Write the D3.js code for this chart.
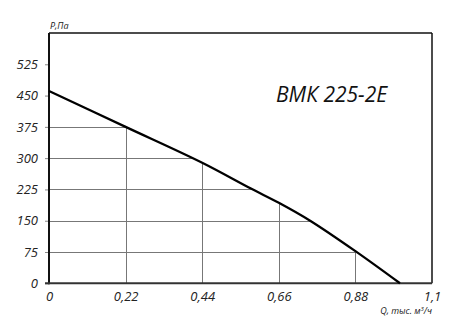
<!DOCTYPE html>
<html>
<head>
<meta charset="utf-8">
<script src="https://cdn.jsdelivr.net/npm/d3@7"></script>
<style>
  body { margin: 0; background: #fff; }
  svg { display: block; font-family: "Open Sans", sans-serif; }
</style>
</head>
<body>
<svg id="board" width="471" height="333"></svg>
<script>
// characteristic of the fan
var flow = [0, 0.22, 0.44, 0.58, 0.66, 0.75, 0.88, 1.008];
var pressure = [461, 375, 289, 227, 193, 150, 77, 0];
var xTicks = [0, 0.22, 0.44, 0.66, 0.88, 1.1];
var yTicks = [0, 75, 150, 225, 300, 375, 450, 525];
var title = "ВМК 225-2Е";

var board = d3.select("#board");
var pLeft = 49, pRight = 432, pTop = 33, pBottom = 283.3;

var x = d3.scaleLinear().domain([0, 1.1]).range([pLeft, pRight]);
var y = d3.scaleLinear().domain([0, 600]).range([pBottom, pTop]);

var pts = flow.map(function(q, i) { return [q, pressure[i]]; });

var line = d3.line()
      .x(function(d) { return x(d[0]); })
      .y(function(d) { return y(d[1]); })
      .curve(d3.curveCatmullRom);

var area = d3.area()
      .x(function(d) { return x(d[0]); })
      .y0(pBottom)
      .y1(function(d) { return y(d[1]); })
      .curve(d3.curveCatmullRom);

// grid only below the curve
board.append("clipPath").attr("id", "under")
      .append("path").attr("d", area(pts));

var grid = board.append("g").attr("clip-path", "url(#under)");
grid.selectAll("line.v")
      .data(xTicks.slice(1, 5))
      .enter().append("line")
      .attr("x1", function(d) { return Math.round(x(d)) + 0.5; })
      .attr("x2", function(d) { return Math.round(x(d)) + 0.5; })
      .attr("y1", pTop).attr("y2", pBottom)
      .attr("stroke", "#777").attr("stroke-width", 1);
grid.selectAll("line.h")
      .data(yTicks.slice(1, 6))
      .enter().append("line")
      .attr("y1", function(d) { return Math.round(y(d)) + 0.5; })
      .attr("y2", function(d) { return Math.round(y(d)) + 0.5; })
      .attr("x1", pLeft).attr("x2", pRight)
      .attr("stroke", "#777").attr("stroke-width", 1);

// y axis ticks + labels
var yAxis = board.append("g")
      .attr("transform", "translate(" + pLeft + ",0)")
      .call(d3.axisLeft(y).tickValues(yTicks).tickSize(4).tickPadding(7));
yAxis.select(".domain").remove();
yAxis.selectAll(".tick line").attr("stroke", "#888");
yAxis.selectAll(".tick text")
      .attr("font-size", 13).attr("font-style", "italic")
      .attr("font-family", "Open Sans").attr("fill", "#222");

// x axis labels
var xAxis = board.append("g")
      .attr("transform", "translate(0," + pBottom + ")")
      .call(d3.axisBottom(x).tickValues(xTicks).tickSize(0).tickPadding(8)
            .tickFormat(function(d) { return String(d).replace(".", ","); }));
xAxis.select(".domain").remove();
xAxis.selectAll(".tick text")
      .attr("font-size", 13).attr("font-style", "italic")
      .attr("font-family", "Open Sans").attr("fill", "#222");

// frame
board.append("line").attr("x1", pLeft).attr("x2", pRight).attr("y1", pTop).attr("y2", pTop)
      .attr("stroke", "#111").attr("stroke-width", 1.5);
board.append("line").attr("x1", pRight).attr("x2", pRight).attr("y1", pTop).attr("y2", pBottom)
      .attr("stroke", "#111").attr("stroke-width", 1.5);
board.append("line").attr("x1", pLeft).attr("x2", pLeft).attr("y1", pTop).attr("y2", pBottom + 1)
      .attr("stroke", "#111").attr("stroke-width", 2);
board.append("line").attr("x1", pLeft - 4).attr("x2", pRight).attr("y1", pBottom).attr("y2", pBottom)
      .attr("stroke", "#333").attr("stroke-width", 2);

// curve
board.append("path").attr("d", line(pts))
      .attr("fill", "none").attr("stroke", "#000").attr("stroke-width", 2.3);

// texts
board.append("text").attr("x", 50).attr("y", 29)
      .attr("font-size", 9).attr("font-style", "italic").attr("fill", "#222")
      .text("Р,Па");
var qLabel = board.append("text").attr("x", 432).attr("y", 314)
      .attr("text-anchor", "end")
      .attr("font-size", 9).attr("font-style", "italic").attr("fill", "#222");
qLabel.append("tspan").text("Q, тыс. м");
qLabel.append("tspan").attr("font-size", 6).attr("dy", -3).text("3");
qLabel.append("tspan").attr("dy", 3).text("/ч");

board.append("text").attr("x", 276).attr("y", 102)
      .attr("font-size", 21).attr("font-style", "italic").attr("fill", "#111")
      .text(title);
</script>
</body>
</html>
